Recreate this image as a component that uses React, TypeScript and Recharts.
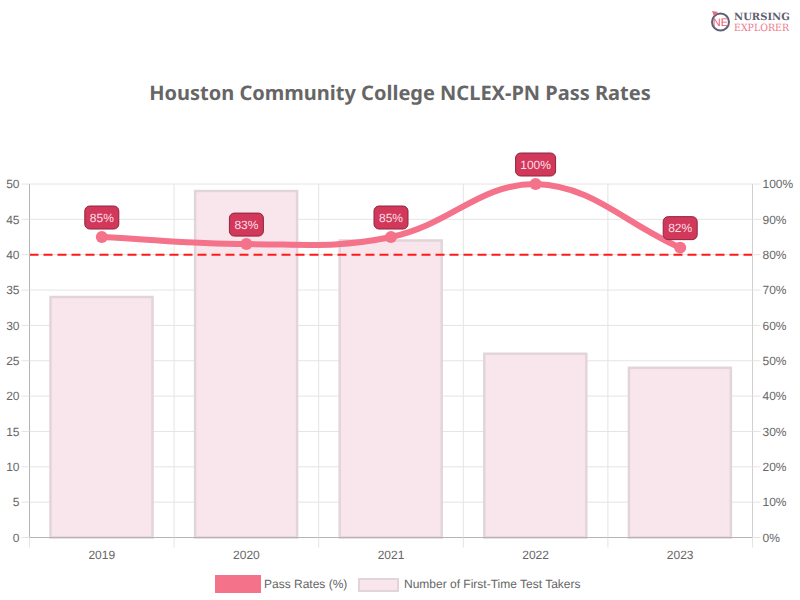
import React from "react";
import { Bar, CartesianGrid, ComposedChart, LabelList, Legend, Line, ReferenceLine, XAxis, YAxis } from "recharts";

const years = ["2019", "2020", "2021", "2022", "2023"];
const passRates = [85, 83, 85, 100, 82];
const testTakers = [34, 49, 42, 26, 24];
const leftTicks = [0, 5, 10, 15, 20, 25, 30, 35, 40, 45, 50];
const rightTicks = [0, 10, 20, 30, 40, 50, 60, 70, 80, 90, 100];
const targetRate = 80;
const title = "Houston Community College NCLEX-PN Pass Rates";
const lineName = "Pass Rates (%)";
const barName = "Number of First-Time Test Takers";

const rows = years.map((year, i) => ({ year, rate: passRates[i], takers: testTakers[i] }));

const W = 800, H = 600;
const LEFT = 29.5, RIGHT = 47.5, TOP = 184, BOTTOM = 62.5, LEGEND_H = 30;
const PLOT_W = W - LEFT - RIGHT;
const BAND = PLOT_W / years.length;
const TEXT = "#666666", GRID = "#e4e4e4", AXIS = "#b4b4b4";
const LINE = "#f4728a", BAR_FILL = "#f8e6ec", BAR_STROKE = "#e2d5da";
const FONT = "'Liberation Sans', Arial, sans-serif";

// Spline with control points held inside the plot area, so the peak stays flat at the top.
const splineCurve = (ctx: any) => {
  let pts: [number, number][] = [];
  return {
    areaStart() {},
    areaEnd() {},
    lineStart() { pts = []; },
    point(x: number, y: number) { pts.push([+x, +y]); },
    lineEnd() {
      const t = 0.4;
      const cps = pts.map((p, i) => {
        const a = pts[Math.max(i - 1, 0)], b = pts[Math.min(i + 1, pts.length - 1)];
        const d1 = Math.hypot(p[0] - a[0], p[1] - a[1]), d2 = Math.hypot(b[0] - p[0], b[1] - p[1]);
        const s = d1 + d2 || 1;
        const cap = (v: number) => Math.max(v, TOP);
        return {
          in: [p[0] - (t * d1 / s) * (b[0] - a[0]), cap(p[1] - (t * d1 / s) * (b[1] - a[1]))],
          out: [p[0] + (t * d2 / s) * (b[0] - a[0]), cap(p[1] + (t * d2 / s) * (b[1] - a[1]))],
        };
      });
      pts.forEach((p, i) => {
        if (i === 0) ctx.moveTo(p[0], p[1]);
        else ctx.bezierCurveTo(cps[i - 1].out[0], cps[i - 1].out[1], cps[i].in[0], cps[i].in[1], p[0], p[1]);
      });
    },
  };
};

const RateLabel = (props: any) => {
  const { x, y, value } = props;
  const text = `${value}%`;
  const w = text.length === 4 ? 40 : 34;
  const h = 23;
  return (
    <g>
      <rect x={x - w / 2} y={y - 8 - h} width={w} height={h} rx={5} fill="#d2385a" stroke="#8e2440" strokeWidth={1} />
      <text x={x} y={y - 8 - h / 2 + 4} textAnchor="middle" fontSize={12} fontFamily={FONT} fill="#fbdfe6">{text}</text>
    </g>
  );
};

const YearTick = (props: any) => {
  const { x, payload, index } = props;
  const top = H - BOTTOM;
  return (
    <g>
      <line x1={x - BAND / 2} x2={x - BAND / 2} y1={top} y2={top + 10} stroke={GRID} />
      {index === years.length - 1 && <line x1={x + BAND / 2} x2={x + BAND / 2} y1={top} y2={top + 10} stroke={GRID} />}
      <text x={x} y={top + 21} textAnchor="middle" fontSize={12} fontFamily={FONT} fill={TEXT}>{payload.value}</text>
    </g>
  );
};

const ChartLegend = () => (
  <div style={{ position: "relative", height: LEGEND_H, width: W, fontFamily: FONT, fontSize: 12, color: TEXT }}>
    <div style={{ position: "absolute", left: 215, top: 5, width: 46, height: 18, background: LINE }} />
    <div style={{ position: "absolute", left: 264, top: 7, lineHeight: "14px" }}>{lineName}</div>
    <div style={{ position: "absolute", left: 358, top: 8, width: 37, height: 10, background: BAR_FILL, border: `2px solid ${BAR_STROKE}` }} />
    <div style={{ position: "absolute", left: 404, top: 7, lineHeight: "14px" }}>{barName}</div>
  </div>
);

const Logo = () => (
  <svg width={90} height={30} style={{ position: "absolute", left: 708, top: 7 }}>
    <circle cx={12.5} cy={15} r={8.5} fill="none" stroke="#5f6070" strokeWidth={2} />
    <path d="M4 4 L10 5 L6 9 Z" fill="#ec6a80" />
    <text x={12.5} y={19} textAnchor="middle" fontSize={11} fontFamily={FONT} fill="#e8566f">NE</text>
    <text x={26} y={13} fontSize={10} fontWeight={700} fontFamily="'DejaVu Serif', serif" fill="#5f6070">NURSING</text>
    <text x={26} y={24} fontSize={10} fontFamily="'DejaVu Serif', serif" fill="#ec7a8c" textLength={55} lengthAdjust="spacingAndGlyphs">EXPLORER</text>
  </svg>
);

export default function App() {
  return (
    <div style={{ position: "absolute", left: 0, top: 0, width: W, height: H, background: "#fff", textRendering: "geometricPrecision" }}>
      <Logo />
      <div style={{ position: "absolute", left: 0, top: 79, width: W, textAlign: "center", fontFamily: "'Noto Sans', sans-serif", fontWeight: 700, fontSize: 20, lineHeight: "28px", color: TEXT }}>
        {title}
      </div>
      <ComposedChart
        width={W}
        height={H}
        data={rows}
        margin={{ top: TOP, right: 0, bottom: 0, left: 0 }}
      >
        <CartesianGrid
          stroke={GRID}
          horizontalValues={leftTicks}
          yAxisId="left"
          verticalCoordinatesGenerator={({ offset }: any) =>
            years.map((_, i) => offset.left + ((i + 1) * offset.width) / years.length)
          }
        />
        <XAxis dataKey="year" tick={<YearTick />} tickLine={false} axisLine={{ stroke: AXIS }} interval={0} height={BOTTOM - LEGEND_H} />
        <YAxis yAxisId="left" orientation="left" width={LEFT} domain={[0, 50]} ticks={leftTicks} interval={0}
          tick={{ fontSize: 12, fontFamily: FONT, fill: TEXT }} tickSize={8} tickMargin={2}
          tickLine={{ stroke: GRID }} axisLine={{ stroke: AXIS }} />
        <YAxis yAxisId="right" orientation="right" width={RIGHT} domain={[0, 100]} ticks={rightTicks} interval={0}
          tickFormatter={(v: number) => `${v}%`}
          tick={{ fontSize: 12, fontFamily: FONT, fill: TEXT }} tickSize={8} tickMargin={2}
          tickLine={{ stroke: GRID }} axisLine={{ stroke: "#d0d0d0" }} />
        <Bar yAxisId="left" dataKey="takers" name={barName} barSize={102} fill={BAR_FILL} stroke={BAR_STROKE} strokeWidth={2.5} isAnimationActive={false} />
        <ReferenceLine yAxisId="right" y={targetRate} stroke="#ff1a1a" strokeWidth={2} strokeDasharray="9 5" />
        <Line yAxisId="right" dataKey="rate" name={lineName} type={splineCurve as any} stroke={LINE} strokeWidth={6}
          dot={{ r: 6, fill: LINE, stroke: LINE, strokeWidth: 0 }} activeDot={false} isAnimationActive={false}>
          <LabelList dataKey="rate" content={<RateLabel />} />
        </Line>
        <Legend verticalAlign="bottom" content={<ChartLegend />} wrapperStyle={{ left: 0, width: W, bottom: 0, height: LEGEND_H }} />
      </ComposedChart>
    </div>
  );
}
